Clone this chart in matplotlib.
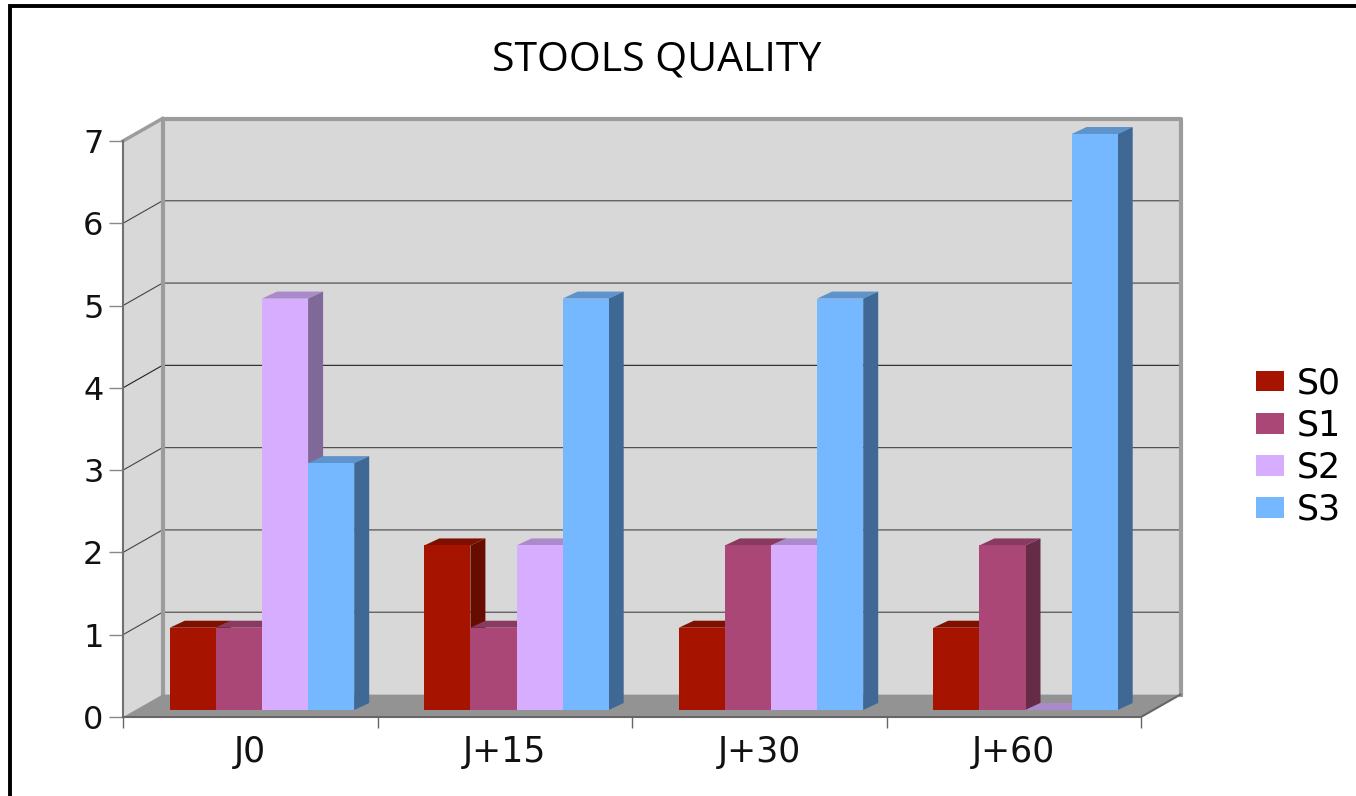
import matplotlib
matplotlib.use('Agg')
from matplotlib import pyplot as plt
from matplotlib.lines import Line2D
from matplotlib.patches import Patch

categories = ['J0', 'J+15', 'J+30', 'J+60']
series_names = ['S0', 'S1', 'S2', 'S3']
s0 = [1, 2, 1, 1]
s1 = [1, 1, 2, 2]
s2 = [5, 2, 2, 0]
s3 = [3, 5, 5, 7]
y_ticks = [0, 1, 2, 3, 4, 5, 6, 7]

front = ['#a61400', '#aa4776', '#d6adff', '#75b8ff']
side = ['#660c00', '#662b47', '#806899', '#3f6994']
top = ['#7f1000', '#8a3a60', '#ab8acc', '#5e93cc']

W, H = 1356, 796
fig = plt.figure(figsize=(W / 100, H / 100), dpi=100, facecolor='white')
# axes = front plane of the fake 3d box
ax = fig.add_axes([123 / W, 1 - 717 / H, 1018 / W, 576 / H])
ax.set_xlim(0, len(categories))
ax.set_ylim(0, 7)
ax.patch.set_visible(False)
for sp in ax.spines.values():
    sp.set_visible(False)

# size of one pixel in data units
px = len(categories) / 1018
py = 7 / 576
dx, dy = 39.5 * px, 22.5 * py   # depth of the box
bx, by = 15 * px, 7 * py        # depth of a bar
n = len(categories)

# walls and floor
ax.fill([0, dx, n + dx, n + dx, dx, 0], [0, dy, dy, 7 + dy, 7 + dy, 7], color='#d8d8d8', lw=0, clip_on=False, zorder=1)
ax.fill([0, n, n + dx, dx], [0, 0, dy, dy], color='#939393', lw=0, clip_on=False, zorder=2)

# grid on the back wall and left wall
for v in y_ticks[1:-1]:
    c = '#222222' if v == 4 else '#444444'
    ax.plot([0, dx, n + dx], [v, v + dy, v + dy], color=c, lw=0.8, clip_on=False, zorder=1.5)

# box edges
ax.plot([dx, dx, n + dx, n + dx], [dy, 7 + dy, 7 + dy, dy], color='#9c9c9c', lw=3, clip_on=False, zorder=1.6)
ax.plot([0, dx], [7, 7 + dy], color='#9c9c9c', lw=2.5, clip_on=False, zorder=1.6)
ax.plot([0, 0], [0, 7], color='#707070', lw=1.5, clip_on=False, zorder=3)
ax.plot([0, n, n + dx], [0, 0, dy], color='#666666', lw=1.5, clip_on=False, zorder=3)

# bars, left to right so each one covers the side of the previous
bar_w = 46.1 * px
start = 46.8 * px
base = 7 * py
z = 4
for i in range(n):
    for j, vals in enumerate([s0, s1, s2, s3]):
        v = vals[i]
        x0 = i + start + j * bar_w
        x1 = x0 + bar_w
        t = base + v
        ax.fill([x0, x1, x1 + bx, x0 + bx], [t, t, t + by, t + by], color=top[j], lw=0, clip_on=False, zorder=z)
        ax.fill([x1, x1 + bx, x1 + bx, x1], [base, base + by, t + by, t], color=side[j], lw=0, clip_on=False, zorder=z)
        ax.bar(x0, v, bar_w, bottom=base, align='edge', color=front[j], lw=0, clip_on=False, zorder=z + 0.5)
        z += 1

# ticks and labels
ax.set_yticks(y_ticks)
ax.set_xticks(range(n + 1))
ax.set_xticklabels([])
ax.set_xticks([i + 0.5 for i in range(n)], minor=True)
ax.set_xticklabels(categories, minor=True, fontsize=25, color='#111111')
ax.tick_params(axis='x', which='major', length=8, width=1, color='#666666', direction='out')
ax.tick_params(axis='x', which='minor', length=0, pad=13)
ax.tick_params(axis='y', length=10, width=1, color='#888888', direction='out', labelsize=23, labelcolor='#111111', pad=4)

fig.text(657 / W, 1 - 60 / H, 'STOOLS QUALITY', ha='center', va='center', fontsize=29.5, family='Open Sans', color='#000000')

handles = [Patch(color=c, lw=0) for c in front]
fig.legend(handles, series_names, frameon=False, loc='center left', bbox_to_anchor=(1256 / W, 1 - 446.5 / H),
           fontsize=25, handlelength=0.8, handleheight=0.55, handletextpad=0.36, labelspacing=0.234, borderpad=0, borderaxespad=0)

# black frame of the screenshot
fig.add_artist(Line2D([10 / W, 10 / W, 1], [0, 1 - 6 / H, 1 - 6 / H], color='black', lw=2.8, solid_joinstyle='miter'))

fig.savefig('out.png', dpi=100)
